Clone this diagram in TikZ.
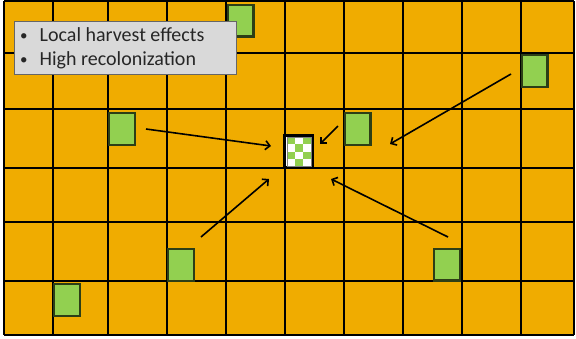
\documentclass[tikz,border=0pt]{standalone}
\usepackage{fontspec}
\setmainfont{Carlito}
\usetikzlibrary{arrows.meta}
\definecolor{field}{RGB}{240,172,0}
\definecolor{patchgreen}{RGB}{146,208,80}
\definecolor{patchedge}{RGB}{45,62,22}
\definecolor{boxgray}{RGB}{217,217,217}
\tikzset{
  patch/.style={rectangle, draw=patchedge, fill=patchgreen, line width=2.4pt,
    minimum width=25.6pt, minimum height=31.6pt, inner sep=0pt},
  gridline/.style={line width=2.3pt, black},
  flow/.style={line width=1.6pt, -{Straight Barb[length=4.5pt,width=9pt]}},
  bullet/.style={anchor=base west, inner sep=0pt, text=black!85,
    font=\fontsize{20}{24}\selectfont}
}
\begin{document}
\begin{tikzpicture}[x=1pt, y=-1pt]
    \useasboundingbox (0,0) rectangle (576,338);
    \fill[white] (0,0) rectangle (576,338);
    \fill[field] (4,1) rectangle (574,335);

    \draw[gridline] (4,1) -- (4,335);
    \draw[gridline] (53,1) -- (53,335);
    \draw[gridline] (108,1) -- (108,335);
    \draw[gridline] (167,1) -- (167,335);
    \draw[gridline] (226,1) -- (226,335);
    \draw[gridline] (285,1) -- (285,335);
    \draw[gridline] (344,1) -- (344,335);
    \draw[gridline] (403,1) -- (403,335);
    \draw[gridline] (462,1) -- (462,335);
    \draw[gridline] (521,1) -- (521,335);
    \draw[gridline] (574,1) -- (574,335);

    \draw[gridline] (4,1) -- (574,1);
    \draw[gridline] (4,53) -- (574,53);
    \draw[gridline] (4,109) -- (574,109);
    \draw[gridline] (4,168) -- (574,168);
    \draw[gridline] (4,222) -- (574,222);
    \draw[gridline] (4,281) -- (574,281);
    \draw[gridline] (4,335) -- (574,335);

    \node[patch] at (240.5,20.5) (p1) {};
    \node[patch] at (122,129) (p2) {};
    \node[patch] at (357.5,129) (p3) {};
    \node[patch] at (534.5,71) (p4) {};
    \node[patch] at (181,265) (p5) {};
    \node[patch] at (67,300) (p6) {};
    \node[patch] at (447,264.5) (p7) {};

    \node[rectangle, draw=black, line width=3pt, fill=white,
      minimum width=28pt, minimum height=32pt, inner sep=0pt] at (298.5,151.5) (harvest) {};
    \fill[patchgreen] (287,137) rectangle (295,144.25);
    \fill[patchgreen] (303,137) rectangle (311,144.25);
    \fill[patchgreen] (295,144.25) rectangle (303,151.5);
    \fill[patchgreen] (287,151.5) rectangle (295,158.75);
    \fill[patchgreen] (303,151.5) rectangle (311,158.75);
    \fill[patchgreen] (295,158.75) rectangle (303,166);
    \draw[gray, line width=0.6pt] (287,137) rectangle (311,166);

    \coordinate (s2) at (146,129);
    \coordinate (e2) at (271,146);
    \coordinate (s3) at (338,126);
    \coordinate (e3) at (320,144);
    \coordinate (s4) at (511,74);
    \coordinate (e4) at (390,144);
    \coordinate (s5) at (201,237);
    \coordinate (e5) at (269,179);
    \coordinate (s7) at (448,237);
    \coordinate (e7) at (331,179);

    \draw[flow] (s2) -- (e2);
    \draw[flow] (s3) -- (e3);
    \draw[flow] (s4) -- (e4);
    \draw[flow] (s5) -- (e5);
    \draw[flow] (s7) -- (e7);

    \node[rectangle, draw=black!60, fill=boxgray, line width=0.8pt,
      minimum width=222pt, minimum height=53pt, inner sep=0pt] at (125,47.5) (notes) {};
    \node[bullet, font=\fontsize{15}{24}\selectfont] at (20,40.5) (b1) {\textbullet};
    \node[bullet] at (39.5,41.5) (t1) {Local harvest effects};
    \node[bullet, font=\fontsize{15}{24}\selectfont] at (20,64) (b2) {\textbullet};
    \node[bullet] at (39.5,65) (t2) {High recolonization};
\end{tikzpicture}
\end{document}
